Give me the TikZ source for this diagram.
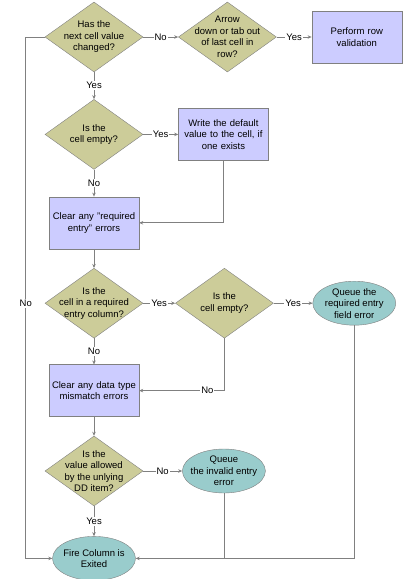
\documentclass[tikz,border=0pt]{standalone}
\usepackage{fontspec}
\setmainfont{Liberation Sans}
\usepackage{xcolor}
\definecolor{flowOlive}{HTML}{CCCC99}
\definecolor{flowLavender}{HTML}{CCCCFF}
\definecolor{flowTeal}{HTML}{99CCCC}
\definecolor{flowGray}{HTML}{808080}
\usepackage{tikz}
\usetikzlibrary{shapes.geometric, arrows.meta, positioning, calc}

\begin{document}
\begin{tikzpicture}[
    font=\fontsize{9.5}{11.5}\selectfont,
    decbox/.style={draw=flowGray, fill=flowOlive, diamond, aspect=1.4, align=center, inner sep=-6pt, minimum width=98pt, minimum height=70pt},
    procbox/.style={draw=flowGray, fill=flowLavender, rectangle, align=center, text width=86pt, inner xsep=2pt, minimum height=52pt},
    termbox/.style={draw=flowGray, fill=flowTeal, ellipse, align=center, inner sep=-5pt, minimum width=83pt, minimum height=44pt},
    lbl/.style={fill=white, inner sep=1pt},
    line/.style={draw=flowGray, line width=0.8pt},
    arrow/.style={line, -{Stealth[length=4pt, width=3.5pt]}}
]
\useasboundingbox (0,0) rectangle (406pt,-579pt);

\node (changed) [decbox] at (94pt,-37pt) {Has the\\next cell value\\changed?};
\node (arrowdown) [decbox, right=35pt of changed] {Arrow\\down or tab out\\of last cell in\\row?};
\node (rowval) [procbox, right=35pt of arrowdown] {Perform row\\validation};

\node (empty1) [decbox, below=27pt of changed] {Is the\\cell empty?};
\node (writedef) [procbox, right=35pt of empty1] {Write the default\\value to the cell, if\\one exists};

\node (clearreq) [procbox, below=27pt of empty1] {Clear any "required\\entry" errors};

\node (reqcol) [decbox, below=19pt of clearreq] {Is the\\cell in a required\\entry column?};
\node (empty2) [decbox, right=32pt of reqcol] {Is the\\cell empty?};
\node (queuereq) [termbox, right=39pt of empty2] {Queue the\\required entry\\field error};

\node (cleartype) [procbox, below=26pt of reqcol] {Clear any data type\\mismatch errors};

\node (allowed) [decbox, below=19pt of cleartype] {Is the\\value allowed\\by the unlying\\DD item?};
\node (queueinv) [termbox, right=39pt of allowed] {Queue\\the invalid entry\\error};

\node (fire) [termbox, below=30pt of allowed] {Fire Column is\\Exited};

% main column, top to bottom
\draw [arrow] (changed) -- node[lbl] {Yes} (empty1);
\draw [arrow] (empty1) -- node[lbl] {No} (clearreq);
\draw [arrow] (clearreq) -- (reqcol);
\draw [arrow] (reqcol) -- node[lbl] {No} (cleartype);
\draw [arrow] (cleartype) -- (allowed);
\draw [arrow] (allowed) -- node[lbl] {Yes} (fire);

% branches to the right
\draw [arrow] (changed) -- node[lbl] {No} (arrowdown);
\draw [arrow] (arrowdown) -- node[lbl] {Yes} (rowval);
\draw [arrow] (empty1) -- node[lbl] {Yes} (writedef);
\draw [arrow] (reqcol) -- node[lbl] {Yes} (empty2);
\draw [arrow] (empty2) -- node[lbl] {Yes} (queuereq);
\draw [arrow] (allowed) -- node[lbl] {No} (queueinv);

% returns
\draw [arrow] (writedef.south) |- (clearreq.east);
\draw [arrow] (empty2.south) |- node[lbl, pos=0.6] {No} (cleartype.east);
\draw [arrow] (queuereq.south) |- (fire.east);
\draw [line] (queueinv.south) -- (queueinv.south |- fire.east);

% left rail
\coordinate (rail) at ($(changed.west)+(-19pt,0)$);
\draw [arrow] (changed.west) -- (rail) |- (fire.west);
\node [lbl] at (rail |- reqcol) {No};

\end{tikzpicture}
\end{document}
